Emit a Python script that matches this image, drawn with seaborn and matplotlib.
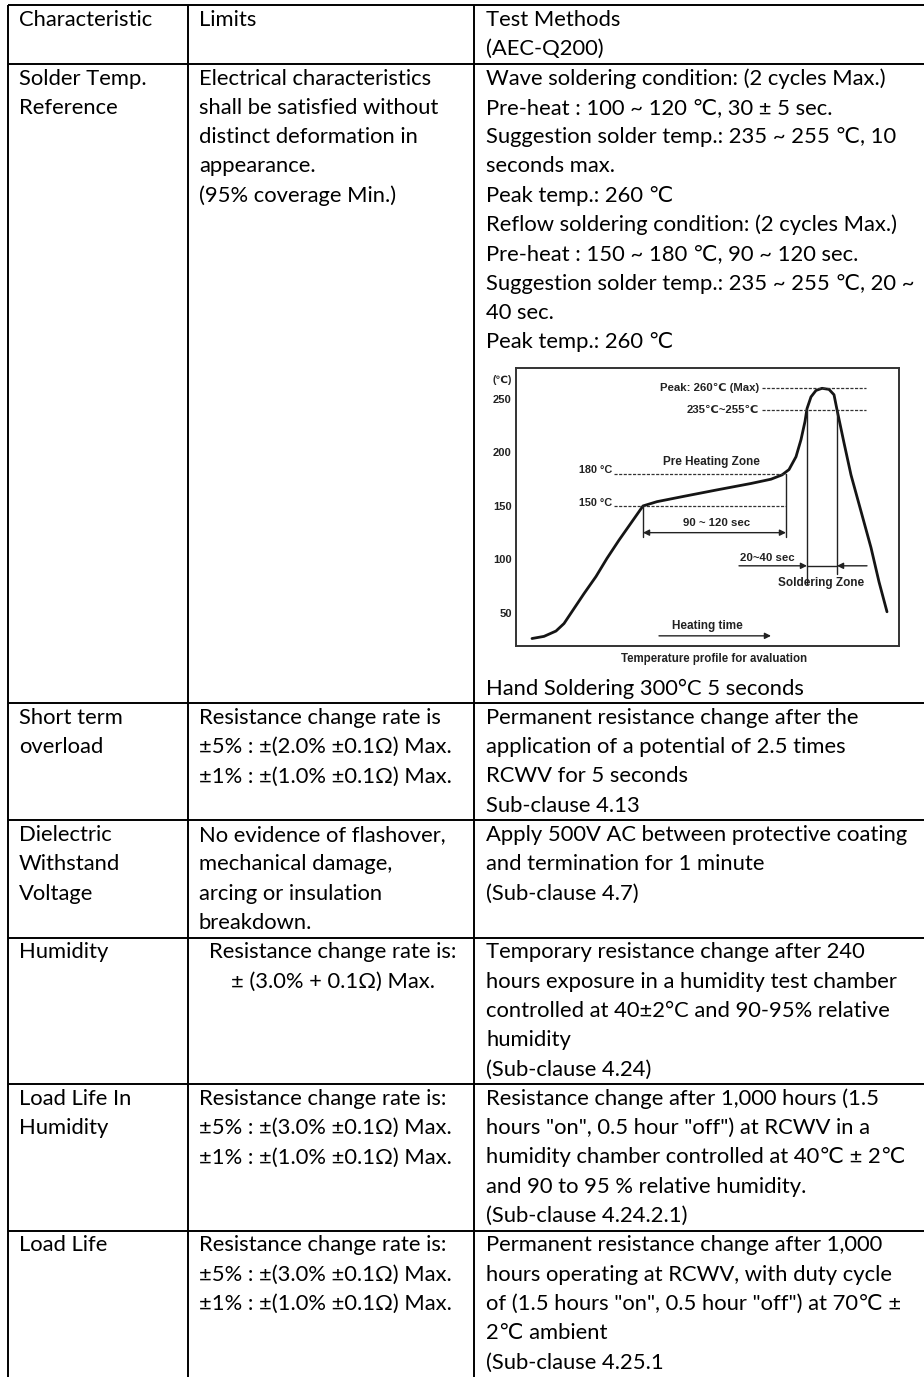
import pandas as pd
import seaborn as sns
import matplotlib.pyplot as plt

sns.set_theme(style='white')
plt.rcParams['font.family'] = ['Lato', 'DejaVu Sans']

# ---- table text ----
header = [['Characteristic'], ['Limits'], ['Test Methods', '(AEC-Q200)']]

characteristics = [
    ['Solder Temp.', 'Reference'],
    ['Short term', 'overload'],
    ['Dielectric', 'Withstand', 'Voltage'],
    ['Humidity'],
    ['Load Life In', 'Humidity'],
    ['Load Life'],
]

limits = [
    ['Electrical characteristics', 'shall be satisfied without', 'distinct deformation in',
     'appearance.', '(95% coverage Min.)'],
    ['Resistance change rate is', '±5% : ±(2.0% ±0.1Ω) Max.', '±1% : ±(1.0% ±0.1Ω) Max.'],
    ['No evidence of flashover,', 'mechanical damage,', 'arcing or insulation', 'breakdown.'],
    ['Resistance change rate is:', '± (3.0% + 0.1Ω) Max.'],
    ['Resistance change rate is:', '±5% : ±(3.0% ±0.1Ω) Max.', '±1% : ±(1.0% ±0.1Ω) Max.'],
    ['Resistance change rate is:', '±5% : ±(3.0% ±0.1Ω) Max.', '±1% : ±(1.0% ±0.1Ω) Max.'],
]
limits_centered = [False, False, False, True, False, False]

methods = [
    ['Wave soldering condition: (2 cycles Max.)', 'Pre-heat : 100 ~ 120 ℃, 30 ± 5 sec.',
     'Suggestion solder temp.: 235 ~ 255 ℃, 10', 'seconds max.', 'Peak temp.: 260 ℃',
     'Reflow soldering condition: (2 cycles Max.)', 'Pre-heat : 150 ~ 180 ℃, 90 ~ 120 sec.',
     'Suggestion solder temp.: 235 ~ 255 ℃, 20 ~', '40 sec.', 'Peak temp.: 260 ℃',
     'Hand Soldering 300°C 5 seconds'],
    ['Permanent resistance change after the', 'application of a potential of 2.5 times',
     'RCWV for 5 seconds', 'Sub-clause 4.13'],
    ['Apply 500V AC between protective coating', 'and termination for 1 minute',
     '(Sub-clause 4.7)'],
    ['Temporary resistance change after 240', 'hours exposure in a humidity test chamber',
     'controlled at 40±2°C and 90-95% relative', 'humidity', '(Sub-clause 4.24)'],
    ['Resistance change after 1,000 hours (1.5', 'hours "on", 0.5 hour "off") at RCWV in a',
     'humidity chamber controlled at 40℃ ± 2℃', 'and 90 to 95 % relative humidity.',
     '(Sub-clause 4.24.2.1)'],
    ['Permanent resistance change after 1,000', 'hours operating at RCWV, with duty cycle',
     'of (1.5 hours "on", 0.5 hour "off") at 70℃ ±', '2℃ ambient', '(Sub-clause 4.25.1'],
]
row_lines = [11, 4, 4, 5, 5, 5]

# ---- reflow profile (time in arbitrary units, temperature in degC) ----
profile_t = [16, 28, 40, 48, 58, 68, 80, 91, 103, 115, 127, 141, 168, 201, 235, 255, 266,
             273, 280, 285, 289, 291, 295, 300, 306, 313, 318, 321, 328, 335, 345, 355, 363, 371]
profile_temp = [26, 28, 33, 40, 54, 68, 84, 101, 118, 134, 150, 154, 159, 165, 171, 175, 179,
                184, 196, 212, 229, 241, 252, 258, 260, 259, 254, 240, 209, 179, 145, 111, 79, 51]
temp_ticks = [50, 100, 150, 200, 250]

W, H = 924, 1377
fig = plt.figure(figsize=(W / 100, H / 100), dpi=100)
ax = fig.add_axes([0, 0, 1, 1])
ax.set_xlim(0, W)
ax.set_ylim(H, 0)
ax.axis('off')

LS = 29.3
Y0 = 20
CHART_GAP = 317
col_x = [8, 188, 474]
text_x = [19, 199, 486]
FS = 15.8
lw_tab = 1.4


def line_y(g, gap_after=11):
    return Y0 + g * LS + (CHART_GAP if g > gap_after else 0)


# header
for c, lines in enumerate(header):
    for i, s in enumerate(lines):
        ax.text(text_x[c], line_y(i), s, fontsize=FS, va='center', ha='left', color='black')

borders = [5, (line_y(1) + line_y(2)) / 2]
g = 2
for r in range(len(row_lines)):
    for i, s in enumerate(characteristics[r]):
        ax.text(text_x[0], line_y(g + i), s, fontsize=FS, va='center', color='black')
    for i, s in enumerate(limits[r]):
        if limits_centered[r]:
            ax.text((col_x[1] + col_x[2]) / 2 + 2, line_y(g + i), s, fontsize=FS,
                    va='center', ha='center', color='black')
        else:
            ax.text(text_x[1], line_y(g + i), s, fontsize=FS, va='center', color='black')
    for i, s in enumerate(methods[r]):
        ax.text(text_x[2], line_y(g + i), s, fontsize=FS, va='center', color='black')
    n = max(row_lines[r], len(methods[r]))
    g += n
    borders.append(line_y(g - 1) + LS / 2)

for yb in borders[:-1]:
    ax.plot([col_x[0], W], [yb, yb], color='black', lw=lw_tab, solid_capstyle='butt')
for xc in col_x:
    ax.plot([xc, xc], [5, H], color='black', lw=lw_tab, solid_capstyle='butt')

# ---- embedded chart ----
ax2 = fig.add_axes([516 / W, 1 - 646 / H, 383 / W, 278 / H])
ax2.set_facecolor('white')
prof = pd.DataFrame({'t': profile_t, 'temp': profile_temp})
sns.lineplot(data=prof, x='t', y='temp', ax=ax2, color='#151515', lw=2.0, sort=False)
ax2.set_xlim(0, 383)
ax2.set_ylim(19, 279)
ax2.set_xticks([])
ax2.set_yticks(temp_ticks)
ax2.set_xlabel('')
ax2.set_ylabel('')
cfont = dict(family=['Liberation Sans', 'DejaVu Sans'], fontweight='bold', color='#222222')
ax2.tick_params(axis='y', length=0, pad=3, labelsize=8)
for lbl in ax2.get_yticklabels():
    lbl.set_fontweight('bold')
    lbl.set_family(['Liberation Sans', 'DejaVu Sans'])
    lbl.set_color('#222222')
for sp in ax2.spines.values():
    sp.set_color('#333333')
    sp.set_linewidth(1.4)

dash = dict(color='#333333', lw=0.9, ls=(0, (2.5, 1.2)))
ax2.plot([98, 270], [180, 180], **dash)
ax2.plot([98, 270], [150, 150], **dash)
ax2.plot([246, 350], [260, 260], **dash)
ax2.plot([246, 350], [240, 240], **dash)

solid = dict(color='#222222', lw=1.0)
ax2.plot([127, 127], [150, 121], **solid)
ax2.plot([270, 270], [180, 121], **solid)
ax2.plot([291, 291], [240, 77], **solid)
ax2.plot([321, 321], [240, 86], **solid)
ax2.plot([291, 321], [94, 94], **solid)

ap = dict(color='#222222', lw=1.0, shrinkA=0, shrinkB=0, mutation_scale=9)
ax2.annotate('', xy=(270, 125), xytext=(127, 125), arrowprops=dict(arrowstyle='<|-|>', **ap))
ax2.annotate('', xy=(291, 94), xytext=(223, 94), arrowprops=dict(arrowstyle='-|>', **ap))
ax2.annotate('', xy=(321, 94), xytext=(351, 94), arrowprops=dict(arrowstyle='-|>', **ap))
ax2.annotate('', xy=(255, 28.5), xytext=(143, 28.5), arrowprops=dict(arrowstyle='-|>', **ap))

ax2.text(96, 184, '180 °C', fontsize=7.8, ha='right', va='center', **cfont)
ax2.text(96, 152.5, '150 °C', fontsize=7.8, ha='right', va='center', **cfont)
ax2.text(195, 191, 'Pre Heating Zone', fontsize=8.5, ha='center', va='center', **cfont)
ax2.text(201, 134, '90 ~ 120 sec', fontsize=8.2, ha='center', va='center', **cfont)
ax2.text(243, 260, 'Peak: 260℃ (Max)', fontsize=8.2, ha='right', va='center', **cfont)
ax2.text(243, 240, '235℃~255℃', fontsize=8.2, ha='right', va='center', **cfont)
ax2.text(251, 101, '20~40 sec', fontsize=8.2, ha='center', va='center', **cfont)
ax2.text(305, 78, 'Soldering Zone', fontsize=8.5, ha='center', va='center', **cfont)
ax2.text(191, 38, 'Heating time', fontsize=8.5, ha='center', va='center', **cfont)
ax2.text(-14, 268, '(℃)', fontsize=7.5, ha='center', va='center', clip_on=False, **cfont)
ax2.text(0.517, -0.047, 'Temperature profile for avaluation', transform=ax2.transAxes,
         fontsize=8.3, ha='center', va='center', **cfont)

fig.savefig('out.png', dpi=100)
